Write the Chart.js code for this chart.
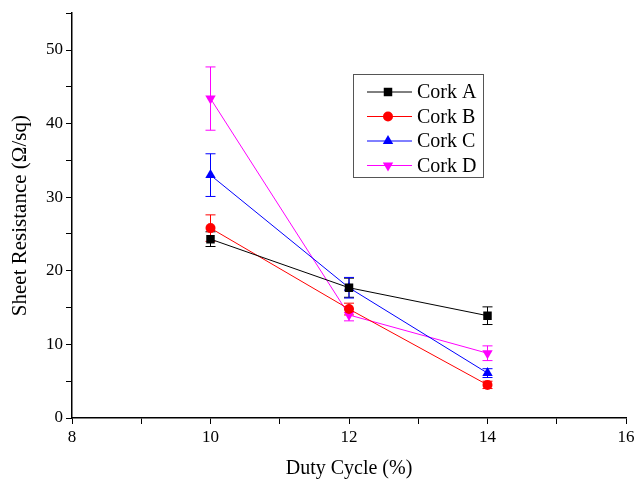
<!DOCTYPE html>
<html>
<head>
<meta charset="utf-8">
<script src="https://cdn.jsdelivr.net/npm/chart.js@4"></script>
<style>
  html, body { margin: 0; padding: 0; background: #fff; }
  #wrap { width: 634px; height: 485px; }
</style>
</head>
<body>
<div id="wrap"><canvas id="myChart" width="634" height="485"></canvas></div>
<script>
// data
const dutyCycle = [10, 12, 14];
const corkA = [24.3, 17.7, 13.9];
const corkB = [25.8, 14.8, 4.5];
const corkC = [33.0, 17.7, 6.1];
const corkD = [43.4, 14.0, 8.8];
const errA = [1.0, 1.3, 1.2];
const errB = [1.8, 0.8, 0.5];
const errC = [2.9, 1.4, 0.6];
const errD = [4.3, 0.8, 1.0];
const xTicks = [8, 10, 12, 14, 16];
const yTicks = [0, 10, 20, 30, 40, 50];

const serif = '"Liberation Serif", "Times New Roman", serif';

function makeSet(label, values, errs, color, style, radius, rotation) {
    return {
        label: label,
        data: dutyCycle.map((x, i) => ({ x: x, y: values[i] })),
        errors: errs,
        borderColor: color,
        backgroundColor: color,
        borderWidth: 1,
        pointStyle: style,
        pointRotation: rotation || 0,
        pointRadius: radius,
        pointBorderWidth: 0,
        tension: 0
    };
}

// error bars, drawn through the scales
const errorBars = {
    id: 'errorBars',
    beforeDatasetsDraw(chart) {
        const c = chart.ctx;
        const xs = chart.scales.x, ys = chart.scales.y;
        chart.data.datasets.forEach(ds => {
            c.save();
            c.strokeStyle = ds.borderColor;
            c.lineWidth = 1;
            ds.data.forEach((p, i) => {
                const e = ds.errors[i];
                const px = xs.getPixelForValue(p.x);
                const top = ys.getPixelForValue(p.y + e);
                const bot = ys.getPixelForValue(p.y - e);
                c.beginPath();
                c.moveTo(px, top); c.lineTo(px, bot);
                c.moveTo(px - 5, top); c.lineTo(px + 5, top);
                c.moveTo(px - 5, bot); c.lineTo(px + 5, bot);
                c.stroke();
            });
            c.restore();
        });
    }
};

// legend box inside the plot
const boxLegend = {
    id: 'boxLegend',
    afterDraw(chart) {
        const c = chart.ctx;
        const left = 353, top = 74;
        const w = 130, h = 103;
        c.save();
        c.strokeStyle = '#555';
        c.lineWidth = 1;
        c.strokeRect(left + 0.5, top + 0.5, w, h);
        c.font = '20px ' + serif;
        c.textBaseline = 'middle';
        chart.data.datasets.forEach((ds, i) => {
            const y = top + 18 + i * 24.5;
            c.strokeStyle = ds.borderColor;
            c.beginPath();
            c.moveTo(left + 14, y); c.lineTo(left + 59, y);
            c.stroke();
            c.fillStyle = ds.backgroundColor;
            Chart.helpers.drawPoint(c, { pointStyle: ds.pointStyle, rotation: ds.pointRotation, radius: ds.pointRadius, borderWidth: 0 }, left + 35, y);
            c.fillStyle = '#000';
            c.fillText(ds.label, left + 64, y + 1);
        });
        c.restore();
    }
};

const ctx = document.getElementById('myChart').getContext('2d');

const config = {
    type: 'line',
    data: {
        datasets: [
            makeSet('Cork A', corkA, errA, '#000000', 'rect', 6),
            makeSet('Cork B', corkB, errB, '#ff0000', 'circle', 5),
            makeSet('Cork C', corkC, errC, '#0000ff', 'triangle', 6),
            makeSet('Cork D', corkD, errD, '#ff00ff', 'triangle', 6, 180)
        ]
    },
    options: {
        responsive: false,
        animation: false,
        layout: { padding: { top: 10, right: 8, left: 4 } },
        plugins: {
            legend: { display: false },
            tooltip: { enabled: false }
        },
        scales: {
            x: {
                type: 'linear',
                min: 8, max: 16,
                afterFit: s => { s.height = 67; s.paddingRight = 0; },
                border: { color: '#000', width: 1.5 },
                grid: { drawOnChartArea: false, color: '#000', tickLength: 6 },
                ticks: {
                    stepSize: 1,
                    autoSkip: false,
                    maxRotation: 0,
                    color: '#000',
                    font: { family: serif, size: 17 },
                    callback: v => xTicks.includes(v) ? String(v) : ''
                },
                title: {
                    display: true,
                    text: 'Duty Cycle (%)',
                    color: '#000',
                    font: { family: serif, size: 20 },
                    padding: { top: 9 }
                }
            },
            y: {
                type: 'linear',
                min: 0, max: 55,
                afterFit: s => { s.width = 68; },
                border: { color: '#000', width: 1.5 },
                grid: { drawOnChartArea: false, color: '#000', tickLength: 6 },
                ticks: {
                    stepSize: 5,
                    autoSkip: false,
                    color: '#000',
                    font: { family: serif, size: 17 },
                    callback: v => yTicks.includes(v) ? String(v) : ''
                },
                title: {
                    display: true,
                    text: 'Sheet Resistance (Ω/sq)',
                    color: '#000',
                    font: { family: serif, size: 21 },
                    padding: { bottom: 5 }
                }
            }
        }
    },
    plugins: [errorBars, boxLegend]
};

const myChart = new Chart(ctx, config);
</script>
</body>
</html>
